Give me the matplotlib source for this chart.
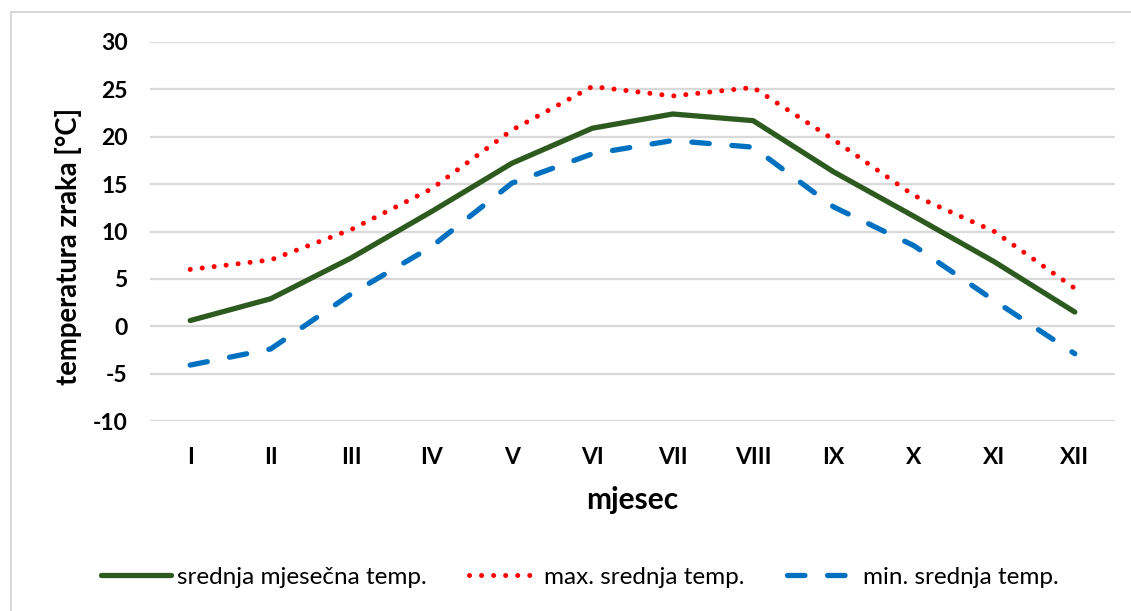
import matplotlib
matplotlib.use("Agg")
import matplotlib.pyplot as plt
from matplotlib.patches import Rectangle

months = ["I", "II", "III", "IV", "V", "VI", "VII", "VIII", "IX", "X", "XI", "XII"]
mean_temp = [0.6, 2.9, 7.2, 12.1, 17.2, 20.9, 22.4, 21.7, 16.3, 11.6, 6.8, 1.5]
max_temp = [6.0, 7.0, 10.2, 14.5, 20.7, 25.3, 24.3, 25.2, 19.7, 13.8, 10.0, 4.0]
min_temp = [-4.1, -2.4, 3.4, 8.4, 15.1, 18.2, 19.6, 18.9, 12.6, 8.5, 2.7, -2.9]
yticks = [-10, -5, 0, 5, 10, 15, 20, 25, 30]

W, H = 1131, 611
plt.rcParams['font.family'] = ['Lato', 'DejaVu Sans']
plt.rcParams['axes.unicode_minus'] = False
fig = plt.figure(figsize=(W / 100, H / 100), dpi=100)
fig.patches.append(Rectangle((11 / W, -0.01), 1.05, (H - 12) / H + 0.01,
                             transform=fig.transFigure, fill=False,
                             edgecolor='#D9D9D9', linewidth=1.5))

ax = fig.add_axes([150 / W, (H - 421) / H, (1115 - 150) / W, (421 - 42) / H])
x = list(range(len(months)))
ax.plot(x, mean_temp, color='#2D5A1F', lw=3.8, solid_capstyle='round',
        solid_joinstyle='round', label='srednja mjesečna temp.', zorder=3)
ax.plot(x, max_temp, color='#FF0000', lw=3.6, linestyle=(0, (0.01, 2.4)),
        dash_capstyle='round', label='max. srednja temp.', zorder=3)
ax.plot(x, min_temp, color='#0070C0', lw=3.8, linestyle=(0, (3.3, 4.3)),
        dash_capstyle='round', label='min. srednja temp.', zorder=3)

ax.set_xlim(-0.5, len(months) - 0.5)
ax.set_ylim(-10, 30)
ax.set_yticks(yticks)
ax.set_xticks(x)
ax.set_xticklabels(months)
ax.yaxis.grid(True, color='#D9D9D9', linewidth=1.6)
ax.set_axisbelow(True)
for s in ax.spines.values():
    s.set_visible(False)
ax.tick_params(length=0, labelsize=16.5)
ax.tick_params(axis='y', pad=16)
ax.tick_params(axis='x', pad=19)
for lab in ax.get_xticklabels() + ax.get_yticklabels():
    lab.set_fontweight('bold')

ax.set_ylabel('temperatura zraka [°C]', fontsize=19.8, fontweight='bold')
ax.yaxis.set_label_coords((68 - 150) / 965, (421 - 246) / 379)
ax.set_xlabel('mjesec', fontsize=21.5, fontweight='bold')
ax.xaxis.set_label_coords((632 - 150) / 965, -(500 - 421) / 379)
ax.xaxis.label.set_va('center')
ax.yaxis.label.set_va('center')

fig.legend(loc='center', bbox_to_anchor=(580 / W, (H - 577) / H), ncol=3,
           frameon=False, fontsize=17.5, handlelength=2.85, columnspacing=1.75,
           handletextpad=0.25)

fig.savefig('out.png', dpi=100, facecolor='white')
